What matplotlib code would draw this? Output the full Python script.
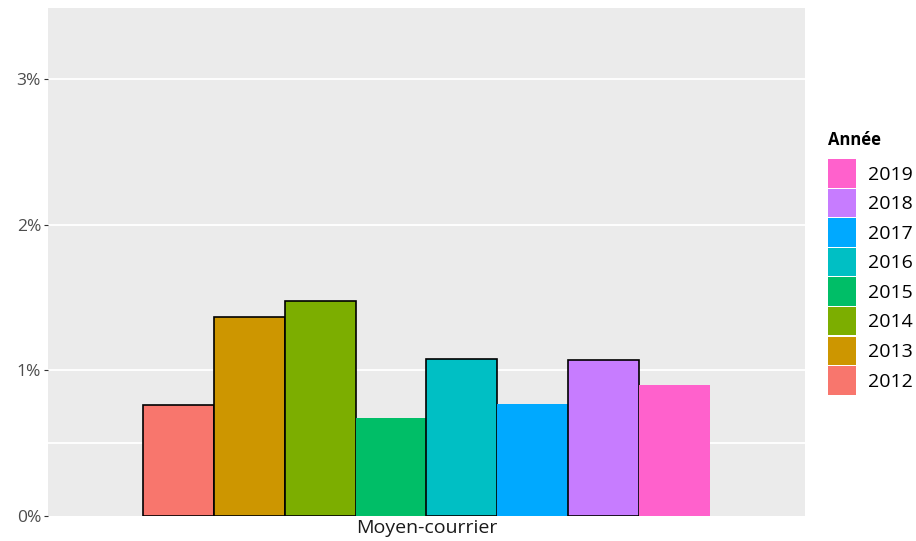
import matplotlib
matplotlib.use("Agg")
import matplotlib.pyplot as plt
from matplotlib.patches import Patch
import numpy as np

plt.rcParams['font.family'] = ['Open Sans', 'DejaVu Sans']

category = "Moyen-courrier"
years = ["2012", "2013", "2014", "2015", "2016", "2017", "2018", "2019"]
values = [0.76, 1.365, 1.48, 0.67, 1.08, 0.77, 1.07, 0.90]  # percent
colors = ["#F8766D", "#CD9600", "#7CAE00", "#00BE67",
          "#00BFC4", "#00A9FF", "#C77CFF", "#FF61CC"]
edges = ["black", "black", "black", "none", "black", "none", "black", "none"]
yticks = [0, 1, 2, 3]
ytick_labels = ["0%", "1%", "2%", "3%"]

W, H = 916, 541
fig = plt.figure(figsize=(W / 100, H / 100), dpi=100)
ax = fig.add_axes([48 / W, (H - 516) / H, (805 - 48) / W, (516 - 8) / H])
ax.set_facecolor("#EBEBEB")

n = len(years)
total = 0.9
bw = total / n
x0 = 1 - total / 2
for i, (v, c, e) in enumerate(zip(values, colors, edges)):
    ax.bar(x0 + bw * (i + 0.5), v, width=bw, color=c,
           edgecolor=e, linewidth=1.2, zorder=3)

ax.set_xlim(0.4, 1.6)
ax.set_ylim(0, 3.49)
ax.set_yticks(yticks)
ax.set_yticklabels(ytick_labels)
ax.set_xticks([1])
ax.set_xticklabels([category])
ax.tick_params(axis='y', length=3, color="#333333", labelcolor="#4D4D4D",
               labelsize=12.5, pad=2)
ax.tick_params(axis='x', length=0, labelcolor="#1A1A1A", labelsize=14, pad=2)
for yv in yticks[1:]:
    ax.axhline(yv, color="white", lw=1.3, zorder=1)
ax.axhline(0.5, color="white", lw=1.3, zorder=1)
for s in ax.spines.values():
    s.set_visible(False)

handles = [Patch(facecolor=c, edgecolor="none") for c in colors[::-1]]
leg = fig.legend(handles, years[::-1], title="Année",
                 loc="upper left", bbox_to_anchor=(820 / W, 1 - 123 / H),
                 frameon=False, fontsize=14, title_fontsize=12,
                 handlelength=1.45, handleheight=1.87, handletextpad=0.6,
                 labelspacing=0.06, borderaxespad=0)
leg.get_title().set_fontweight("bold")
leg._legend_box.align = "left"
leg._legend_box.sep = 7.5

fig.savefig("out.png", dpi=100, facecolor="white")
